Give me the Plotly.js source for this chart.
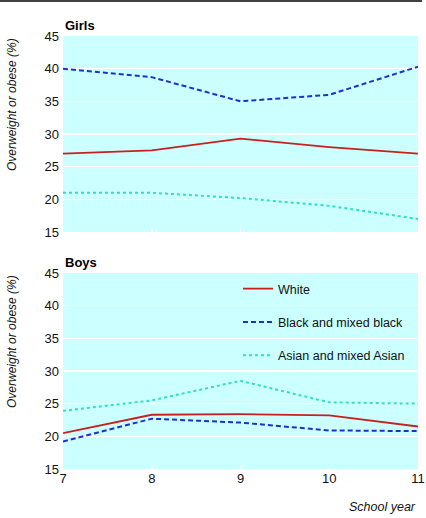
<!DOCTYPE html>
<html>
<head>
<meta charset="utf-8">
<script src="https://cdn.plot.ly/plotly-3.0.1.min.js"></script>
<style>html,body{margin:0;padding:0;background:#fff;}#chart{width:426px;height:518px;}</style>
</head>
<body>
<div id="chart"></div>
<script>
const years = [7, 8, 9, 10, 11];
const seriesNames = ["White", "Black and mixed black", "Asian and mixed Asian"];
const girlsWhite = [27.0, 27.5, 29.3, 28.0, 27.0];
const girlsBlack = [40.0, 38.7, 35.0, 36.0, 40.3];
const girlsAsian = [21.0, 21.0, 20.2, 19.0, 17.0];
const boysWhite = [20.5, 23.3, 23.4, 23.2, 21.5];
const boysBlack = [19.2, 22.7, 22.1, 20.9, 20.8];
const boysAsian = [23.9, 25.5, 28.5, 25.2, 25.0];
const yTicks = [15, 20, 25, 30, 35, 40, 45];
const panelTitles = ["Girls", "Boys"];
const yTitle = "Overweight or obese (%)";
const xTitle = "School year";

const styles = [
  {color: "#c8201e", width: 1.8, dash: "solid"},
  {color: "#1f2fd0", width: 2, dash: "5px,3px"},
  {color: "#2fe0c0", width: 2, dash: "dot"}
];

const girls = [girlsWhite, girlsBlack, girlsAsian];
const boys = [boysWhite, boysBlack, boysAsian];
const traces = [];
girls.forEach((ys, i) => traces.push({
  x: years, y: ys, type: "scatter", mode: "lines", name: seriesNames[i],
  xaxis: "x", yaxis: "y", line: styles[i], showlegend: false
}));
boys.forEach((ys, i) => traces.push({
  x: years, y: ys, type: "scatter", mode: "lines", name: seriesNames[i],
  xaxis: "x2", yaxis: "y2", line: styles[i], showlegend: true, legendgroup: "g" + i
}));

const F = "Liberation Sans, Arial, Helvetica, sans-serif";
const H = 433, W = 355;
const py = p => (469 - p) / H;
const px = p => (p - 63) / W;

const yax = (domain, anchor) => ({
  domain: domain, anchor: anchor, range: [15, 45], tickvals: yTicks,
  showgrid: true, gridcolor: "#ffffff", gridwidth: 1.5, zeroline: false,
  showline: false, ticks: "", ticklabelstandoff: 3,
  tickfont: {family: F, size: 13, color: "#111"}
});
const xax = (anchor, labels) => ({
  anchor: anchor, range: [7, 11], tickvals: years, showgrid: false, zeroline: false,
  showline: false, ticks: "inside", ticklen: 4, tickcolor: "#ffffff", tickwidth: 1.5,
  showticklabels: labels, tickfont: {family: F, size: 13, color: "#111"}
});

const layout = {
  width: 426, height: 518,
  margin: {l: 63, r: 8, t: 36, b: 49},
  paper_bgcolor: "#ffffff", plot_bgcolor: "#ccffff",
  xaxis: xax("y", false),
  yaxis: yax([237 / H, 1], "x"),
  xaxis2: Object.assign(xax("y2", true), {matches: "x"}),
  yaxis2: yax([0, 196 / H], "x2"),
  showlegend: true,
  legend: {
    x: px(238), y: py(274), xanchor: "left", yanchor: "top",
    bgcolor: "rgba(0,0,0,0)", borderwidth: 0,
    font: {family: F, size: 12.5, color: "#111"},
    tracegroupgap: 14, itemwidth: 30
  },
  shapes: [{
    type: "line", xref: "paper", yref: "paper",
    x0: px(0), x1: px(422), y0: py(1), y1: py(1),
    line: {color: "#000", width: 1.5}
  }],
  annotations: [
    {text: "<b>" + panelTitles[0] + "</b>", xref: "paper", yref: "paper", x: 0, y: py(25),
     xanchor: "left", yanchor: "middle", showarrow: false, font: {family: F, size: 13, color: "#000"}},
    {text: "<b>" + panelTitles[1] + "</b>", xref: "paper", yref: "paper", x: 0, y: py(262),
     xanchor: "left", yanchor: "middle", showarrow: false, font: {family: F, size: 13, color: "#000"}},
    {text: "<i>" + yTitle + "</i>", xref: "paper", yref: "paper", x: px(12), y: py(105),
     xanchor: "center", yanchor: "middle", textangle: -90, showarrow: false,
     font: {family: F, size: 12, color: "#111"}},
    {text: "<i>" + yTitle + "</i>", xref: "paper", yref: "paper", x: px(12), y: py(342),
     xanchor: "center", yanchor: "middle", textangle: -90, showarrow: false,
     font: {family: F, size: 12, color: "#111"}},
    {text: "<i>" + xTitle + "</i>", xref: "paper", yref: "paper", x: 1, y: py(507),
     xanchor: "right", yanchor: "middle", showarrow: false,
     font: {family: F, size: 12.5, color: "#111"}}
  ]
};

Plotly.newPlot("chart", traces, layout, {displayModeBar: false, staticPlot: true});
</script>
</body>
</html>
